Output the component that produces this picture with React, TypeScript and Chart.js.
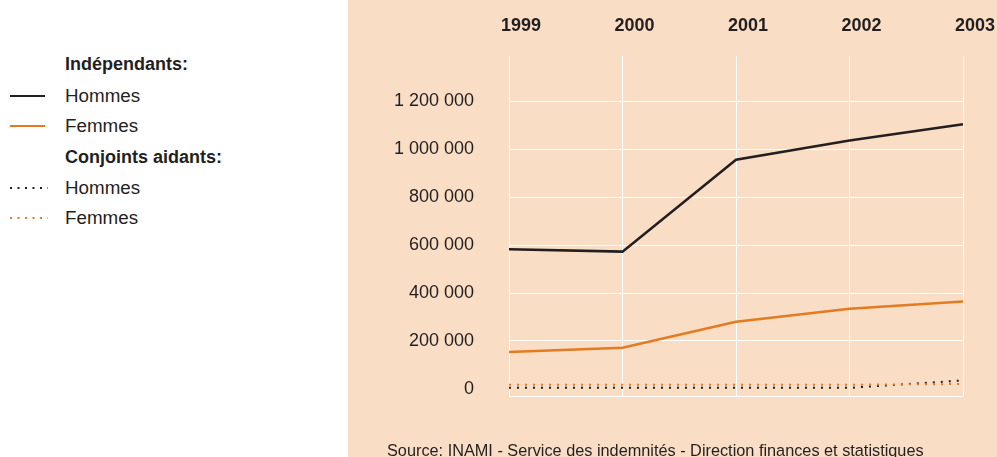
import React, { useEffect, useRef } from "react";
import { Chart, registerables } from "chart.js";

Chart.register(...registerables);

const years = ["1999", "2000", "2001", "2002", "2003"];
const indepHommes = [583000, 573000, 957000, 1037000, 1105000];
const indepFemmes = [154000, 172000, 280000, 334000, 365000];
const conjHommes = [4000, 4000, 4000, 4000, 35000];
const conjFemmes = [17000, 17000, 17000, 17000, 20000];
const yTicks = [-30000, 0, 200000, 400000, 600000, 800000, 1000000, 1200000];

const BLACK = "#231f20";
const ORANGE = "#e37b22";
const PEACH = "#f9ddc5";
const FONT = '"Liberation Sans", Arial, sans-serif';

const fmt = (v: number) =>
  String(v).replace(/\B(?=(\d{3})+(?!\d))/g, " ");

function LegendRow({ y, label, bold, color, dotted }: { y: number; label: string; bold?: boolean; color?: string; dotted?: boolean }) {
  return (
    <div style={{ position: "absolute", left: 0, top: y - 15, height: 30, width: 340 }}>
      {color && (
        <svg width={40} height={30} style={{ position: "absolute", left: 9, top: 0 }}>
          <line
            x1={1}
            y1={15}
            x2={dotted ? 39 : 36}
            y2={15}
            stroke={color}
            strokeWidth={2}
            strokeDasharray={dotted ? "2 5.5" : undefined}
          />
        </svg>
      )}
      <div
        style={{
          position: "absolute",
          left: 65,
          top: 0,
          lineHeight: "30px",
          fontSize: bold ? 18 : 18.8,
          fontWeight: bold ? 700 : 400,
          color: BLACK,
          fontFamily: FONT,
          whiteSpace: "nowrap",
        }}
      >
        {label}
      </div>
    </div>
  );
}

export default function App() {
  const ref = useRef<HTMLCanvasElement>(null);
  useEffect(() => {
    document.body.style.margin = "0";
    const ctx = ref.current!;
    const chart = new Chart(ctx, {
      type: "line",
      data: {
        labels: years,
        datasets: [
          { label: "Indépendants Hommes", data: indepHommes, borderColor: BLACK, borderWidth: 2.5, pointRadius: 0, tension: 0 },
          { label: "Indépendants Femmes", data: indepFemmes, borderColor: ORANGE, borderWidth: 2.5, pointRadius: 0, tension: 0 },
          { label: "Conjoints aidants Femmes", data: conjFemmes, borderColor: ORANGE, borderWidth: 2, borderDash: [2, 6], pointRadius: 0, tension: 0 },
          { label: "Conjoints aidants Hommes", data: conjHommes, borderColor: BLACK, borderWidth: 2, borderDash: [2, 6], pointRadius: 0, tension: 0 },
        ],
      },
      options: {
        animation: false,
        responsive: false,
        maintainAspectRatio: false,
        layout: { padding: { left: 0, right: 34, top: 0, bottom: 61 } },
        plugins: { legend: { display: false }, tooltip: { enabled: false } },
        scales: {
          x: {
            position: "top",
            offset: false,
            border: { display: false },
            grid: { color: "#ffffff", lineWidth: 1, drawTicks: false },
            ticks: {
              color: BLACK,
              font: { family: FONT, size: 18, weight: "bold" },
              padding: 19,
              labelOffset: 12,
              maxRotation: 0,
            },
            afterFit: (s: any) => {
              s.height = 56;
              s.paddingLeft = 0;
              s.paddingRight = 0;
            },
          },
          y: {
            min: -30000,
            max: 1390000,
            border: { display: false },
            grid: {
              drawTicks: false,
              lineWidth: 1,
              color: (c: any) => (c.tick && c.tick.value === 0 ? "rgba(0,0,0,0)" : "#ffffff"),
            },
            ticks: {
              color: BLACK,
              font: { family: FONT, size: 18 },
              padding: 35,
              callback: (v: any) => (Number(v) < 0 ? "" : fmt(Number(v))),
            },
            afterBuildTicks: (s: any) => {
              s.ticks = yTicks.map((v) => ({ value: v }));
            },
            afterFit: (s: any) => {
              s.width = 161;
              s.paddingTop = 0;
              s.paddingBottom = 0;
            },
          },
        },
      },
    });
    return () => chart.destroy();
  }, []);

  return (
    <div style={{ position: "relative", width: 997, height: 457, background: "#ffffff", overflow: "hidden" }}>
      <div style={{ position: "absolute", left: 348, top: 0, width: 649, height: 457, background: PEACH }} />
      <canvas ref={ref} width={649} height={457} style={{ position: "absolute", left: 348, top: 0, width: 649, height: 457 }} />
      <LegendRow y={64} label="Indépendants:" bold />
      <LegendRow y={95.5} label="Hommes" color={BLACK} />
      <LegendRow y={126} label="Femmes" color={ORANGE} />
      <LegendRow y={157} label="Conjoints aidants:" bold />
      <LegendRow y={187.5} label="Hommes" color={BLACK} dotted />
      <LegendRow y={218} label="Femmes" color={ORANGE} dotted />
      <div
        style={{
          position: "absolute",
          left: 387,
          top: 440,
          fontSize: 16.3,
          lineHeight: "20px",
          color: BLACK,
          fontFamily: FONT,
          whiteSpace: "nowrap",
        }}
      >
        Source: INAMI - Service des indemnités - Direction finances et statistiques
      </div>
    </div>
  );
}
